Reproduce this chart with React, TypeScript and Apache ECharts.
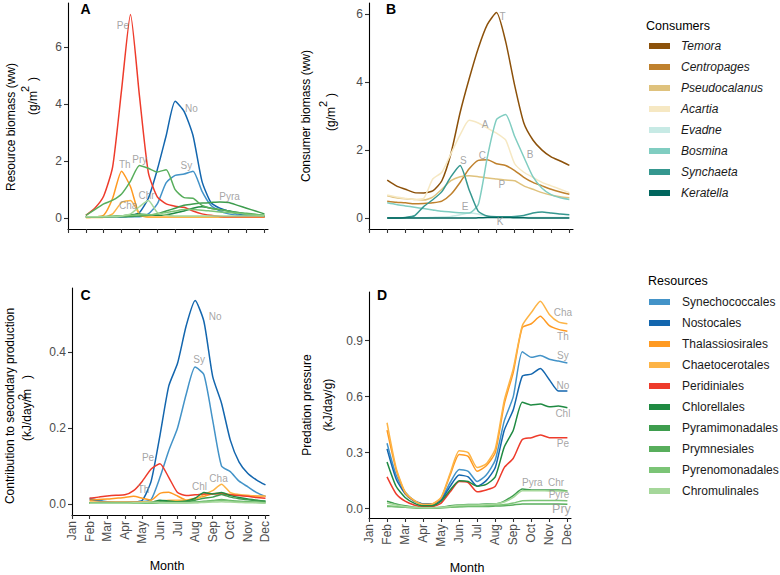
import React, { useEffect, useRef } from "react";
import * as echarts from "echarts";

const FONT = '"Liberation Sans", Arial, Helvetica, sans-serif';

const MONTHS = ["Jan", "Feb", "Mar", "Apr", "May", "Jun", "Jul", "Aug", "Sep", "Oct", "Nov", "Dec"];
const MONTH_TICKS = [0, 1, 2, 3, 4, 5, 6, 7, 8, 9, 10, 11];
// time grid: month index (Jan = 0), half-month steps, Feb..Dec
const T = [1, 1.5, 2, 2.5, 3, 3.5, 4, 4.5, 5, 5.5, 6, 6.5, 7, 7.5, 8, 8.5, 9, 9.5, 10, 10.5, 11];

const RES = ["Synechococcales", "Nostocales", "Thalassiosirales", "Chaetocerotales", "Peridiniales", "Chlorellales", "Pyramimonadales", "Prymnesiales", "Pyrenomonadales", "Chromulinales"];
const RES_COLORS = ["#4393C8", "#1366AE", "#FF9A22", "#FDB446", "#EE3B2B", "#1F8A42", "#3E9D4E", "#58AE5C", "#7BC476", "#A5D79A"];
const CON = ["Temora", "Centropages", "Pseudocalanus", "Acartia", "Evadne", "Bosmina", "Synchaeta", "Keratella"];
const CON_COLORS = ["#8C510A", "#BF812D", "#DFC27D", "#F6E8C3", "#C7EAE5", "#80CDC1", "#35978F", "#01665E"];

// Panel A: resource biomass (g/m2)
const aSy = [0.05, 0.05, 0.05, 0.05, 0.05, 0.05, 0.05, 0.15, 0.5, 1.25, 1.5, 1.55, 1.65, 0.95, 0.45, 0.25, 0.15, 0.1, 0.08, 0.06, 0.05];
const aNo = [0.05, 0.05, 0.05, 0.05, 0.05, 0.08, 0.2, 0.7, 1.7, 2.9, 4.1, 3.75, 2.9, 1.3, 0.55, 0.35, 0.25, 0.15, 0.1, 0.07, 0.05];
const aTh = [0.02, 0.04, 0.1, 0.7, 1.65, 1.1, 0.12, 0.04, 0.03, 0.03, 0.03, 0.03, 0.03, 0.03, 0.03, 0.03, 0.03, 0.03, 0.03, 0.03, 0.03];
const aCha = [0.02, 0.02, 0.03, 0.15, 0.55, 0.62, 0.15, 0.04, 0.03, 0.03, 0.03, 0.03, 0.03, 0.03, 0.03, 0.03, 0.03, 0.03, 0.03, 0.03, 0.03];
const aPe = [0.1, 0.35, 0.78, 1.8, 4.5, 7.15, 4.3, 1.6, 0.75, 0.5, 0.42, 0.38, 0.25, 0.15, 0.1, 0.06, 0.05, 0.05, 0.05, 0.05, 0.05];
const aChl = [0.05, 0.05, 0.05, 0.06, 0.08, 0.12, 0.15, 0.12, 0.1, 0.12, 0.18, 0.25, 0.35, 0.4, 0.35, 0.3, 0.25, 0.2, 0.15, 0.1, 0.08];
const aPyra = [0.05, 0.05, 0.05, 0.05, 0.05, 0.06, 0.08, 0.1, 0.15, 0.25, 0.35, 0.45, 0.5, 0.53, 0.55, 0.57, 0.55, 0.45, 0.35, 0.25, 0.15];
const aPry = [0.1, 0.3, 0.5, 0.63, 0.85, 1.3, 1.85, 1.75, 1.62, 1.7, 1.0, 0.72, 0.7, 0.45, 0.35, 0.3, 0.25, 0.2, 0.17, 0.14, 0.1];
const aPyre = [0.05, 0.05, 0.06, 0.07, 0.08, 0.1, 0.12, 0.12, 0.15, 0.2, 0.25, 0.3, 0.3, 0.28, 0.25, 0.22, 0.2, 0.17, 0.14, 0.12, 0.1];
const aChr = [0.05, 0.05, 0.05, 0.05, 0.08, 0.15, 0.4, 0.62, 0.2, 0.1, 0.08, 0.08, 0.08, 0.08, 0.08, 0.08, 0.08, 0.08, 0.08, 0.08, 0.08];

// Panel B: consumer biomass (g/m2)
const bT = [1.12, 0.95, 0.85, 0.75, 0.74, 0.8, 1.1, 1.9, 3.1, 4.1, 5.0, 5.7, 6.05, 5.2, 3.9, 2.8, 2.3, 2.0, 1.8, 1.68, 1.55];
const bC = [0.5, 0.47, 0.45, 0.42, 0.43, 0.45, 0.5, 0.7, 1.05, 1.45, 1.7, 1.72, 1.6, 1.55, 1.4, 1.2, 1.05, 0.95, 0.85, 0.77, 0.7];
const bP = [0.66, 0.6, 0.57, 0.55, 0.53, 0.62, 0.85, 1.1, 1.22, 1.25, 1.22, 1.18, 1.15, 1.12, 1.1, 0.95, 0.85, 0.75, 0.68, 0.63, 0.6];
const bA = [0.68, 0.62, 0.58, 0.55, 0.58, 1.15, 1.35, 1.9, 2.45, 2.88, 2.8, 2.65, 2.5, 2.3, 1.6, 1.35, 1.2, 1.05, 0.95, 0.85, 0.75];
const bE = [0.01, 0.01, 0.01, 0.01, 0.01, 0.02, 0.03, 0.05, 0.1, 0.15, 0.12, 0.05, 0.02, 0.02, 0.02, 0.02, 0.02, 0.02, 0.02, 0.02, 0.02];
const bB = [0.45, 0.4, 0.36, 0.32, 0.28, 0.24, 0.2, 0.18, 0.16, 0.15, 0.4, 1.8, 2.9, 3.05, 2.4, 1.8, 1.22, 0.88, 0.69, 0.6, 0.55];
const bS = [0.0, 0.0, 0.02, 0.07, 0.34, 0.54, 0.78, 1.22, 1.55, 0.83, 0.2, 0.06, 0.04, 0.04, 0.05, 0.08, 0.15, 0.18, 0.15, 0.12, 0.1];
const bK = [0.0, 0.0, 0.0, 0.0, 0.0, 0.0, 0.0, 0.0, 0.0, 0.0, 0.01, 0.02, 0.02, 0.02, 0.01, 0.01, 0.0, 0.0, 0.0, 0.0, 0.0];

// Panel C: contribution to secondary production (kJ/day/m2)
const cSy = [0.015, 0.01, 0.006, 0.005, 0.005, 0.005, 0.006, 0.012, 0.07, 0.14, 0.2, 0.29, 0.36, 0.34, 0.22, 0.1, 0.085, 0.06, 0.045, 0.03, 0.02];
const cNo = [0.012, 0.008, 0.005, 0.004, 0.004, 0.005, 0.01, 0.06, 0.18, 0.31, 0.37, 0.47, 0.535, 0.48, 0.335, 0.265, 0.168, 0.11, 0.08, 0.063, 0.05];
const cTh = [0.01, 0.012, 0.013, 0.015, 0.017, 0.02, 0.015, 0.01, 0.028, 0.031, 0.021, 0.01, 0.015, 0.02, 0.027, 0.028, 0.025, 0.023, 0.022, 0.021, 0.02];
const cCha = [0.005, 0.005, 0.005, 0.005, 0.005, 0.005, 0.006, 0.006, 0.008, 0.01, 0.01, 0.01, 0.012, 0.025, 0.035, 0.052, 0.03, 0.025, 0.022, 0.02, 0.02];
const cPe = [0.015, 0.018, 0.021, 0.023, 0.024, 0.035, 0.06, 0.092, 0.106, 0.07, 0.03, 0.022, 0.024, 0.026, 0.027, 0.026, 0.024, 0.022, 0.02, 0.017, 0.015];
const cChl = [0.003, 0.003, 0.003, 0.003, 0.003, 0.003, 0.003, 0.004, 0.01, 0.008, 0.006, 0.008, 0.015, 0.03, 0.026, 0.03, 0.022, 0.017, 0.013, 0.01, 0.007];
const cPyra = [0.002, 0.002, 0.002, 0.002, 0.002, 0.002, 0.002, 0.003, 0.006, 0.006, 0.005, 0.006, 0.01, 0.015, 0.018, 0.025, 0.018, 0.014, 0.011, 0.009, 0.007];
const cPry = [0.003, 0.003, 0.003, 0.003, 0.003, 0.003, 0.003, 0.003, 0.004, 0.004, 0.004, 0.004, 0.005, 0.007, 0.009, 0.012, 0.009, 0.007, 0.006, 0.005, 0.004];
const cPyre = [0.002, 0.002, 0.002, 0.002, 0.002, 0.002, 0.002, 0.002, 0.003, 0.003, 0.003, 0.003, 0.004, 0.006, 0.008, 0.01, 0.008, 0.006, 0.005, 0.004, 0.003];
const cChr = [0.002, 0.002, 0.002, 0.002, 0.002, 0.003, 0.004, 0.005, 0.004, 0.003, 0.003, 0.003, 0.003, 0.004, 0.005, 0.006, 0.005, 0.004, 0.003, 0.003, 0.002];

// Panel D: predation pressure (kJ/day/g)
const dSy = [0.35, 0.18, 0.09, 0.045, 0.025, 0.025, 0.05, 0.14, 0.21, 0.2, 0.145, 0.18, 0.26, 0.47, 0.6, 0.84, 0.81, 0.82, 0.8, 0.79, 0.78];
const dNo = [0.32, 0.16, 0.08, 0.04, 0.025, 0.025, 0.045, 0.12, 0.18, 0.17, 0.12, 0.15, 0.22, 0.42, 0.53, 0.71, 0.72, 0.75, 0.69, 0.63, 0.63];
const dTh = [0.42, 0.21, 0.085, 0.043, 0.022, 0.024, 0.058, 0.18, 0.29, 0.28, 0.2, 0.23, 0.3, 0.56, 0.73, 0.97, 0.99, 1.03, 0.98, 0.96, 0.95];
const dCha = [0.46, 0.22, 0.09, 0.045, 0.022, 0.025, 0.06, 0.19, 0.31, 0.3, 0.22, 0.24, 0.32, 0.58, 0.75, 0.98, 1.05, 1.11, 1.04, 1.0, 0.99];
const dPe = [0.17, 0.08, 0.04, 0.02, 0.01, 0.01, 0.03, 0.09, 0.145, 0.14, 0.09, 0.1, 0.12, 0.22, 0.27, 0.37, 0.38, 0.395, 0.38, 0.38, 0.38];
const dChl = [0.25, 0.12, 0.06, 0.03, 0.015, 0.015, 0.04, 0.1, 0.15, 0.145, 0.12, 0.13, 0.17, 0.33, 0.42, 0.57, 0.555, 0.56, 0.545, 0.55, 0.54];
const dPyra = [0.04, 0.025, 0.015, 0.008, 0.005, 0.005, 0.008, 0.015, 0.02, 0.022, 0.022, 0.025, 0.025, 0.04, 0.07, 0.105, 0.1, 0.1, 0.1, 0.1, 0.095];
const dPry = [0.012, 0.01, 0.007, 0.005, 0.004, 0.004, 0.005, 0.007, 0.01, 0.012, 0.012, 0.012, 0.014, 0.016, 0.02, 0.025, 0.025, 0.025, 0.025, 0.025, 0.024];
const dPyre = [0.015, 0.012, 0.008, 0.005, 0.004, 0.004, 0.005, 0.008, 0.012, 0.014, 0.014, 0.015, 0.018, 0.022, 0.03, 0.043, 0.044, 0.044, 0.044, 0.044, 0.043];
const dChr = [0.03, 0.02, 0.012, 0.007, 0.005, 0.005, 0.007, 0.012, 0.018, 0.02, 0.02, 0.022, 0.025, 0.036, 0.06, 0.096, 0.096, 0.096, 0.095, 0.095, 0.093];

// direct line labels (data coordinates: month index, value)
const labelsA = [
  { name: "Pe", x: 3.07, y: 6.77 }, { name: "No", x: 6.91, y: 3.85 }, { name: "Sy", x: 6.63, y: 1.84 },
  { name: "Th", x: 3.18, y: 1.89 }, { name: "Pry", x: 4.02, y: 2.07 }, { name: "Chr", x: 4.4, y: 0.81 },
  { name: "Cha", x: 3.37, y: 0.46 }, { name: "Pyra", x: 9.05, y: 0.75 },
];
const labelsB = [
  { name: "T", x: 7.33, y: 5.94 }, { name: "A", x: 6.37, y: 2.76 }, { name: "B", x: 8.85, y: 1.87 },
  { name: "S", x: 5.18, y: 1.69 }, { name: "C", x: 6.23, y: 1.83 }, { name: "P", x: 7.29, y: 0.99 },
  { name: "E", x: 5.27, y: 0.33 }, { name: "K", x: 7.2, y: -0.11 },
];
const labelsC = [
  { name: "No", x: 8.14, y: 0.493 }, { name: "Sy", x: 7.23, y: 0.379 }, { name: "Pe", x: 4.32, y: 0.122 },
  { name: "Th", x: 4.07, y: 0.037 }, { name: "Chl", x: 7.25, y: 0.046 }, { name: "Cha", x: 8.33, y: 0.068 },
];
const labelsD = [
  { name: "Cha", x: 10.75, y: 1.05 }, { name: "Th", x: 10.75, y: 0.92 }, { name: "Sy", x: 10.75, y: 0.82 },
  { name: "No", x: 10.75, y: 0.662 }, { name: "Chl", x: 10.75, y: 0.511 }, { name: "Pe", x: 10.75, y: 0.347 },
  { name: "Pyra", x: 9.06, y: 0.138 }, { name: "Chr", x: 10.37, y: 0.138 }, { name: "Pyre", x: 10.53, y: 0.077 },
  { name: "Pry", x: 10.67, y: 0.0 },
];

const resA = [aSy, aNo, aTh, aCha, aPe, aChl, aPyra, aPry, aPyre, aChr];
const conB = [bT, bC, bP, bA, bE, bB, bS, bK];
const resC = [cSy, cNo, cTh, cCha, cPe, cChl, cPyra, cPry, cPyre, cChr];
const resD = [dSy, dNo, dTh, dCha, dPe, dChl, dPyra, dPry, dPyre, dChr];

const GRIDS = [
  { left: 68, top: 3, width: 200, height: 226 },
  { left: 369, top: 3, width: 204, height: 226 },
  { left: 72, top: 288, width: 197, height: 227 },
  { left: 369, top: 292, width: 202, height: 226 },
];
const YRANGES = [
  { min: -0.38, max: 7.55, ticks: [0, 2, 4, 6], digits: 0 },
  { min: -0.32, max: 6.33, ticks: [0, 2, 4, 6], digits: 0 },
  { min: -0.029, max: 0.568, ticks: [0, 0.2, 0.4], digits: 1 },
  { min: -0.05, max: 1.16, ticks: [0, 0.3, 0.6, 0.9], digits: 1 },
];

function lineSeries(k: number, names: string[], colors: string[], arrays: number[][]) {
  return arrays.map((arr, i) => ({
    type: "line",
    name: names[i],
    xAxisIndex: k,
    yAxisIndex: k,
    data: T.map((t, j) => [t, arr[j]]),
    showSymbol: false,
    symbol: "none",
    smooth: 0.2,
    lineStyle: { width: 1.5, color: colors[i] },
    itemStyle: { color: colors[i] },
    emphasis: { disabled: true },
    z: 2,
  }));
}

function labelSeries(k: number, labels: { name: string; x: number; y: number }[]) {
  return {
    type: "scatter",
    name: "labels" + k,
    xAxisIndex: k,
    yAxisIndex: k,
    symbolSize: 0.1,
    itemStyle: { color: "rgba(0,0,0,0)" },
    silent: true,
    z: 5,
    data: labels.map((l) => ({
      name: l.name,
      value: [l.x, l.y],
      label: k === 3 && l.name === "Pry" ? { fontSize: 12.5 } : undefined,
    })),
    label: {
      show: true,
      position: "inside",
      formatter: "{b}",
      color: "#8E8E8E",
      fontSize: 10,
      fontFamily: FONT,
    },
  };
}

function vText(text: string, x: number, y: number, size = 12) {
  return {
    type: "text",
    x,
    y,
    rotation: Math.PI / 2,
    silent: true,
    style: {
      text,
      fill: "#000",
      fontSize: size,
      fontFamily: FONT,
      align: "center",
      verticalAlign: "middle",
      textAlign: "center",
      textVerticalAlign: "middle",
    },
  };
}
function hText(text: string, x: number, y: number, size = 12, weight = "normal", align = "center") {
  return {
    type: "text",
    x,
    y,
    silent: true,
    style: {
      text,
      fill: "#000",
      fontSize: size,
      fontWeight: weight,
      fontFamily: FONT,
      align,
      verticalAlign: "middle",
      textAlign: align,
      textVerticalAlign: "middle",
    },
  };
}

export default function App() {
  const ref = useRef<HTMLDivElement>(null);
  useEffect(() => {
    if (!ref.current) return;
    const chart = echarts.init(ref.current, null, { renderer: "svg" });
    const xAxis = GRIDS.map((_, k) => ({
      type: "value",
      gridIndex: k,
      min: 0,
      max: 11.2,
      splitLine: { show: false },
      axisLine: { show: true, onZero: false, lineStyle: { color: "#000", width: 1.1 } },
      axisTick: { show: true, customValues: MONTH_TICKS, length: 4, lineStyle: { color: "#333", width: 1.1 } },
      axisLabel: {
        show: k >= 2,
        customValues: MONTH_TICKS,
        formatter: (v: number) => MONTHS[Math.round(v)] || "",
        rotate: 90,
        color: "#4D4D4D",
        fontSize: 12,
        fontFamily: FONT,
        margin: 6,
      },
    }));
    const yAxis = YRANGES.map((r, k) => ({
      type: "value",
      gridIndex: k,
      min: r.min,
      max: r.max,
      splitLine: { show: false },
      axisLine: { show: true, onZero: false, lineStyle: { color: "#000", width: 1.1 } },
      axisTick: { show: true, customValues: r.ticks, length: 4, lineStyle: { color: "#333", width: 1.1 } },
      axisLabel: {
        customValues: r.ticks,
        formatter: (v: number) => v.toFixed(r.digits),
        color: "#4D4D4D",
        fontSize: 12,
        fontFamily: FONT,
        margin: 6,
      },
    }));
    const legendBase = {
      orient: "vertical",
      left: 649,
      padding: 0,
      icon: "rect",
      itemWidth: 21,
      itemHeight: 6,
      itemGap: 7,
      selectedMode: false,
    };
    const option = {
      animation: false,
      backgroundColor: "#fff",
      textStyle: { fontFamily: FONT },
      grid: GRIDS.map((g) => ({ ...g, containLabel: false, outerBoundsMode: "none" })),
      xAxis,
      yAxis,
      legend: [
        {
          ...legendBase,
          top: 39,
          data: CON,
          textStyle: { fontSize: 12, fontStyle: "italic", color: "#1A1A1A", fontFamily: FONT, lineHeight: 14, padding: [0, 0, 0, 6] },
        },
        {
          ...legendBase,
          top: 295,
          data: RES,
          textStyle: { fontSize: 12, color: "#1A1A1A", fontFamily: FONT, lineHeight: 14, padding: [0, 0, 0, 7] },
        },
      ],
      series: [
        ...lineSeries(0, RES, RES_COLORS, resA),
        ...lineSeries(1, CON, CON_COLORS, conB),
        ...lineSeries(2, RES, RES_COLORS, resC),
        ...lineSeries(3, RES, RES_COLORS, resD),
        labelSeries(0, labelsA),
        labelSeries(1, labelsB),
        labelSeries(2, labelsC),
        labelSeries(3, labelsD),
      ],
      graphic: [
        hText("A", 85.5, 9, 14, "bold"),
        hText("B", 391, 9, 14, "bold"),
        hText("C", 85.5, 295, 14, "bold"),
        hText("D", 382, 295, 14, "bold"),
        vText("Resource biomass (ww)", 11, 127),
        vText("2", 25, 89, 11),
        vText("(g/m   )", 33, 96),
        vText("Consumer biomass (ww)", 306, 116),
        vText("2", 323, 104, 11),
        vText("(g/m   )", 331, 112),
        vText("Contribution to secondary production", 10, 406),
        vText("2", 21.5, 397, 11),
        vText("(kJ/day/m   )", 27, 408),
        vText("Predation pressure", 306.5, 405),
        vText("(kJ/day/g)", 328, 405),
        hText("Month", 167, 566, 12.5),
        hText("Month", 467, 568, 12.5),
        hText("Consumers", 646, 26, 12.5, "normal", "left"),
        hText("Resources", 648, 281, 12.5, "normal", "left"),
      ],
    };
    chart.setOption(option as any);
    return () => chart.dispose();
  }, []);
  return (
    <div
      ref={ref}
      style={{ position: "fixed", left: 0, top: 0, width: 780, height: 575, background: "#fff" }}
    />
  );
}
